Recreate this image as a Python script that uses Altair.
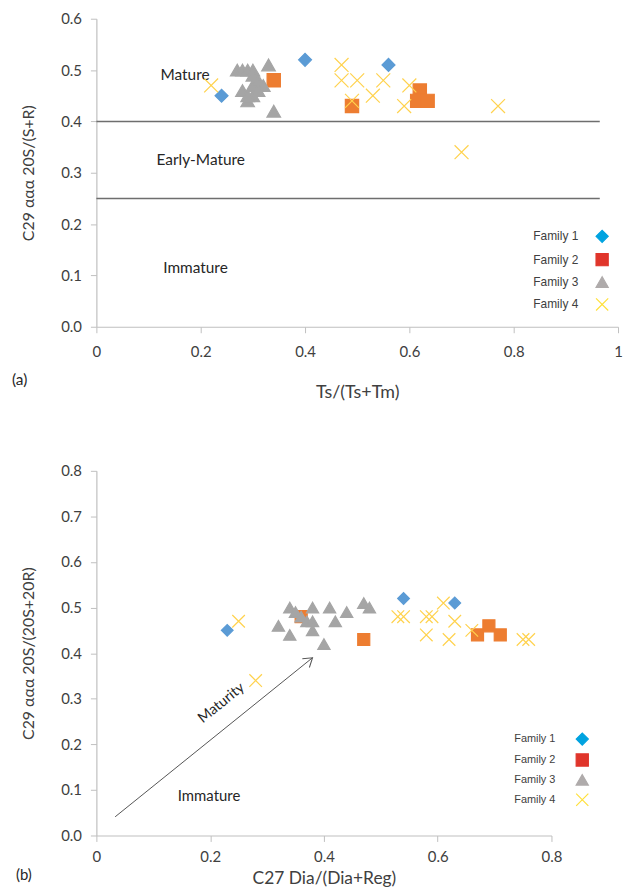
import altair as alt
import pandas as pd

# ---------------- data ----------------
families = ["Family 1", "Family 2", "Family 3", "Family 4"]

# Panel (a): Ts/(Ts+Tm) vs C29 aaa 20S/(S+R)
a_f1_x = [0.24, 0.40, 0.56]
a_f1_y = [0.45, 0.52, 0.51]
a_f2_x = [0.34, 0.49, 0.62, 0.615, 0.635]
a_f2_y = [0.48, 0.43, 0.46, 0.44, 0.44]
a_f3_x = [0.27, 0.28, 0.29, 0.30, 0.33, 0.34, 0.28, 0.29, 0.30, 0.30, 0.31, 0.32, 0.30, 0.31, 0.29]
a_f3_y = [0.50, 0.50, 0.50, 0.50, 0.51, 0.42, 0.46, 0.44, 0.45, 0.47, 0.48, 0.47, 0.49, 0.46, 0.45]
a_f4_x = [0.22, 0.47, 0.47, 0.50, 0.49, 0.53, 0.55, 0.60, 0.59, 0.77, 0.70]
a_f4_y = [0.47, 0.51, 0.48, 0.48, 0.44, 0.45, 0.48, 0.47, 0.43, 0.43, 0.34]

# Panel (b): C27 Dia/(Dia+Reg) vs C29 aaa 20S/(20S+20R)
b_f1_x = [0.23, 0.54, 0.63]
b_f1_y = [0.45, 0.52, 0.51]
b_f2_x = [0.36, 0.47, 0.67, 0.69, 0.71]
b_f2_y = [0.48, 0.43, 0.44, 0.46, 0.44]
b_f3_x = [0.32, 0.34, 0.34, 0.35, 0.36, 0.37, 0.38, 0.38, 0.38, 0.40, 0.41, 0.42, 0.44, 0.47, 0.48]
b_f3_y = [0.46, 0.44, 0.50, 0.49, 0.48, 0.47, 0.50, 0.47, 0.45, 0.42, 0.50, 0.47, 0.49, 0.51, 0.50]
b_f4_x = [0.25, 0.28, 0.53, 0.54, 0.58, 0.59, 0.58, 0.61, 0.63, 0.62, 0.66, 0.75, 0.76]
b_f4_y = [0.47, 0.34, 0.48, 0.48, 0.48, 0.48, 0.44, 0.51, 0.47, 0.43, 0.45, 0.43, 0.43]

# maturity boundaries (panel a)
a_bound_y = [0.40, 0.25]
a_bound_x0 = [0.0, 0.0]
a_bound_x1 = [0.965, 0.965]

# annotations
a_text = ["Mature", "Early-Mature", "Immature", "(a)"]
a_text_x = [0.17, 0.20, 0.19, -0.147]
a_text_y = [0.49, 0.325, 0.115, -0.103]

b_text = ["Immature", "(b)"]
b_text_x = [0.198, -0.1275]
b_text_y = [0.087, -0.087]
b_rot_text = ["Maturity"]
b_rot_x = [0.22]
b_rot_y = [0.29]

# arrow (panel b)
b_arrow_x0 = [0.033]
b_arrow_y0 = [0.041]
b_arrow_x1 = [0.38]
b_arrow_y1 = [0.39]

a_xticks = [0, 0.2, 0.4, 0.6, 0.8, 1.0]
a_yticks = [0.0, 0.1, 0.2, 0.3, 0.4, 0.5, 0.6]
b_xticks = [0, 0.2, 0.4, 0.6, 0.8]
b_yticks = [0.0, 0.1, 0.2, 0.3, 0.4, 0.5, 0.6, 0.7, 0.8]

# ---------------- styles ----------------
X_PATH = "M-1,-1L1,1M-1,1L1,-1"
shapes = ["diamond", "square", "triangle-up", X_PATH]
mark_fill = ["#5B9BD5", "#ED7D31", "#A5A5A5", "transparent"]
mark_stroke = ["#5B9BD5", "#ED7D31", "#A5A5A5", "#FFD24D"]
legend_fill = ["#00A3E0", "#E0352B", "#AFABAB", "transparent"]
legend_stroke = ["#00A3E0", "#E0352B", "#AFABAB", "#FFE03A"]

FONT = "Lato"
TXT = "#262626"
AX = "#BFBFBF"
LAB = "#404040"


def points_df(groups):
    rows = []
    for fam, xs, ys in groups:
        for x, y in zip(xs, ys):
            rows.append({"family": fam, "x": x, "y": y})
    return pd.DataFrame(rows)


def make_panel(df, xdom, ydom, xticks, yticks, xtitle, ytitle, w, h, sizes,
               xlabpad, xtitlepad, xtitlesize, legend_x, legend_y, legend_font,
               row_pad, label_off, extra_layers_fn):
    xs = alt.Scale(domain=xdom, nice=False, zero=False)
    ys = alt.Scale(domain=ydom, nice=False, zero=False)
    xaxis = alt.Axis(values=xticks, format=".1~f", grid=False, labelFlush=False,
                     tickSize=6, tickColor=AX, domainColor=AX, domainWidth=1.2,
                     labelFont=FONT, labelFontSize=15, labelColor=LAB,
                     labelPadding=xlabpad, title=xtitle, titleFont=FONT,
                     titleFontSize=xtitlesize, titleFontWeight="normal", titleColor=LAB,
                     titlePadding=xtitlepad)
    yaxis = alt.Axis(values=yticks, format=".1f", grid=False,
                     tickSize=6, tickColor=AX, domainColor=AX, domainWidth=1.2,
                     labelFont=FONT, labelFontSize=15, labelColor=LAB,
                     labelPadding=9, title=ytitle, titleFont=FONT,
                     titleFontSize=16, titleFontWeight="normal", titleColor=LAB,
                     titlePadding=24)

    def X(f):
        return alt.X(f, type="quantitative", scale=xs, axis=xaxis)

    def Y(f):
        return alt.Y(f, type="quantitative", scale=ys, axis=yaxis)

    pts = alt.Chart(df).mark_point(opacity=1, strokeWidth=1.2).encode(
        x=X("x"), y=Y("y"),
        fill=alt.Fill("family:N", scale=alt.Scale(domain=families, range=mark_fill), legend=None),
        stroke=alt.Stroke("family:N", scale=alt.Scale(domain=families, range=mark_stroke), legend=None),
        shape=alt.Shape("family:N", scale=alt.Scale(domain=families, range=shapes), legend=None),
        size=alt.Size("family:N", scale=alt.Scale(domain=families, range=sizes), legend=None),
    )

    leg = alt.Legend(orient="none", legendX=legend_x, legendY=legend_y, title=None,
                     labelAlign="right", labelOffset={"expr": str(label_off)},
                     labelFont="Liberation Sans", labelFontSize=legend_font,
                     labelColor=LAB, symbolSize=150, symbolStrokeWidth=1.2,
                     rowPadding=row_pad, padding=0)
    legend_layer = alt.Chart(df).transform_filter("false").mark_point(
        opacity=1, strokeWidth=1.2).encode(
        x=X("x"), y=Y("y"),
        fill=alt.Fill("family:N", scale=alt.Scale(domain=families, range=legend_fill), legend=leg),
        stroke=alt.Stroke("family:N", scale=alt.Scale(domain=families, range=legend_stroke), legend=leg),
        shape=alt.Shape("family:N", scale=alt.Scale(domain=families, range=shapes), legend=leg),
    )

    layers = extra_layers_fn(X, Y) + [pts, legend_layer]
    return alt.layer(*layers).resolve_scale(
        fill="independent", stroke="independent", shape="independent"
    ).properties(width=w, height=h)


def extras_a(X, Y):
    bounds = pd.DataFrame({"x": a_bound_x0, "x2": a_bound_x1, "y": a_bound_y})
    rules = alt.Chart(bounds).mark_rule(color="#6E6E6E", strokeWidth=1.5).encode(
        x=X("x"), x2="x2:Q", y=Y("y"))
    tdf = pd.DataFrame({"label": a_text, "x": a_text_x, "y": a_text_y})
    texts = alt.Chart(tdf).mark_text(font=FONT, fontSize=15.5, color=TXT).encode(
        x=X("x"), y=Y("y"), text="label:N")
    return [rules, texts]


def extras_b(X, Y):
    adf = pd.DataFrame({"x": b_arrow_x0, "y": b_arrow_y0, "x2": b_arrow_x1, "y2": b_arrow_y1})
    line = alt.Chart(adf).mark_rule(color="#555555", strokeWidth=1).encode(
        x=X("x"), y=Y("y"), x2="x2:Q", y2="y2:Q")
    head = alt.Chart(adf).mark_point(shape="M-1,-0.65L0,0L-1,0.65", angle=321, size=300,
                                     filled=False, stroke="#555555", strokeWidth=1,
                                     opacity=1).encode(x=X("x2"), y=Y("y2"))
    tdf = pd.DataFrame({"label": b_text, "x": b_text_x, "y": b_text_y})
    texts = alt.Chart(tdf).mark_text(font=FONT, fontSize=15, color=TXT).encode(
        x=X("x"), y=Y("y"), text="label:N")
    rdf = pd.DataFrame({"label": b_rot_text, "x": b_rot_x, "y": b_rot_y})
    rot = alt.Chart(rdf).mark_text(font=FONT, fontSize=14.5, color=TXT, angle=321).encode(
        x=X("x"), y=Y("y"), text="label:N")
    return [line, head, texts, rot]


df_a = points_df([(families[0], a_f1_x, a_f1_y), (families[1], a_f2_x, a_f2_y),
                  (families[2], a_f3_x, a_f3_y), (families[3], a_f4_x, a_f4_y)])
df_b = points_df([(families[0], b_f1_x, b_f1_y), (families[1], b_f2_x, b_f2_y),
                  (families[2], b_f3_x, b_f3_y), (families[3], b_f4_x, b_f4_y)])

panel_a = make_panel(df_a, [0, 1], [0, 0.6], a_xticks, a_yticks, "Ts/(Ts+Tm)",
                     "C29  ααα 20S/(S+R)", 525, 310, [170, 196, 240, 256],
                     12, 24, 18, 502, 212, 12, 5.5, -31, extras_a)
panel_b = make_panel(df_b, [0, 0.8], [0, 0.8], b_xticks, b_yticks, "C27 Dia/(Dia+Reg)",
                     "C29 ααα 20S/(20S+20R)", 458, 367, [140, 160, 190, 200],
                     8, 5, 17.5, 482, 263, 11, 3, -34, extras_b)

chart = alt.vconcat(panel_a, panel_b, spacing=63).resolve_scale(
    x="independent", y="independent", fill="independent", stroke="independent",
    shape="independent", size="independent"
).resolve_legend(fill="independent", stroke="independent", shape="independent", size="independent"
).properties(
    padding={"left": 12, "top": 9, "right": 0, "bottom": 0},
    background="white",
).configure_view(stroke=None)

chart.save("out.html", embed_options={"renderer": "svg", "actions": False})
